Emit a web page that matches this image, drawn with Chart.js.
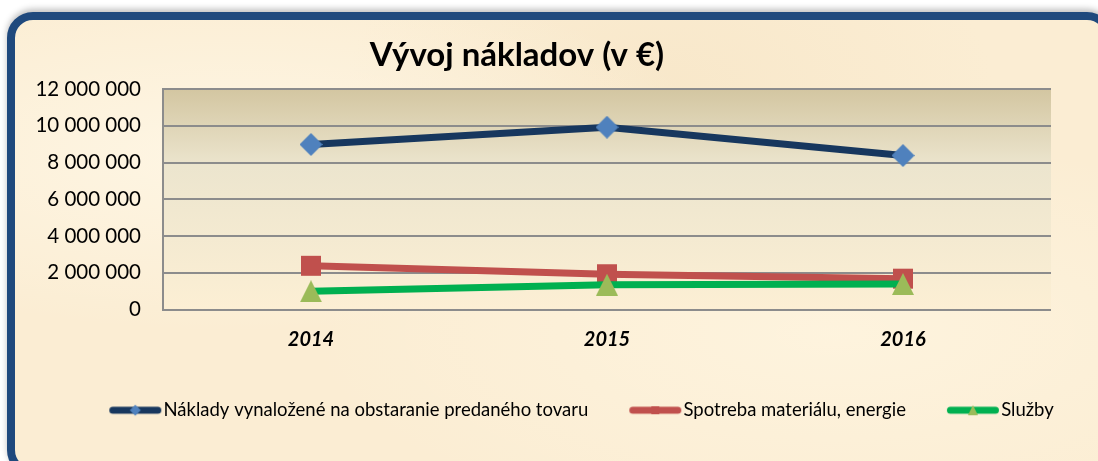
<!DOCTYPE html>
<html>
<head>
<meta charset="utf-8">
<script src="https://cdn.jsdelivr.net/npm/chart.js@4"></script>
<style>
  html, body { margin: 0; padding: 0; background: #fff; overflow: hidden; }
  #frame {
    position: absolute; left: 7px; top: 12px; width: 1090px; height: 448px;
    border: 8px solid #1F497D; border-radius: 26px;
    background:
      radial-gradient(ellipse at 20% 30%, rgba(255,248,232,0.8), rgba(255,248,232,0) 40%),
      radial-gradient(ellipse at 75% 70%, rgba(255,246,226,0.7), rgba(255,246,226,0) 45%),
      radial-gradient(ellipse at 60% 15%, rgba(246,228,196,0.6), rgba(246,228,196,0) 35%),
      #FBEDD3;
    box-shadow: 0 -3px 6px rgba(0,0,0,0.25);
  }
  #wrap { position: absolute; left: 0; top: 0; width: 1098px; height: 461px; }
</style>
</head>
<body>
<div id="frame"></div>
<div id="wrap"><canvas id="c" width="1098" height="461"></canvas></div>
<script>
const years = ['2014', '2015', '2016'];
const naklady = [8980000, 9920000, 8380000];
const spotreba = [2380000, 1920000, 1680000];
const sluzby = [990000, 1350000, 1390000];
const yTicks = [0, 2000000, 4000000, 6000000, 8000000, 10000000, 12000000];

const FONT = 'Lato, "Open Sans", sans-serif';

function fmt(v) { return String(v).replace(/\B(?=(\d{3})+(?!\d))/g, ' '); }

function marker(kind, size, fill) {
  const c = document.createElement('canvas');
  c.width = size; c.height = size;
  const g = c.getContext('2d');
  drawShape(g, kind, size / 2, size / 2, size, fill);
  return c;
}

function drawShape(g, kind, cx, cy, s, fill) {
  g.fillStyle = fill;
  g.beginPath();
  if (kind === 'diamond') {
    g.moveTo(cx, cy - s / 2); g.lineTo(cx + s / 2, cy); g.lineTo(cx, cy + s / 2); g.lineTo(cx - s / 2, cy);
  } else if (kind === 'square') {
    g.rect(cx - s / 2 + 1, cy - s / 2 + 1, s - 2, s - 2);
  } else {
    g.moveTo(cx, cy - s / 2); g.lineTo(cx + s / 2, cy + s / 2); g.lineTo(cx - s / 2, cy + s / 2);
  }
  g.closePath();
  g.fill();
}

// legend icon: wider than the legend box so the line sits close to the text
function legendIcon(kind, lineColor, fill) {
  const c = document.createElement('canvas');
  c.width = 80; c.height = 14;
  const g = c.getContext('2d');
  g.strokeStyle = lineColor; g.lineWidth = 7; g.lineCap = 'round';
  g.beginPath(); g.moveTo(28.5, 7); g.lineTo(73.5, 7); g.stroke();
  drawShape(g, kind, 51, 7, kind === 'diamond' ? 11 : 10, fill);
  return c;
}

// order: later series are painted on top, like the original
const series = [
  { label: 'Náklady vynaložené na obstaranie predaného tovaru', data: naklady, line: '#17375E', fill: '#4F81BD', kind: 'diamond', size: 23, order: 2 },
  { label: 'Spotreba materiálu, energie', data: spotreba, line: '#C0504D', fill: '#C0504D', kind: 'square', size: 22, order: 1 },
  { label: 'Služby', data: sluzby, line: '#00B050', fill: '#9BBB59', kind: 'triangle', size: 22, order: 0 }
];

const plotBg = {
  id: 'plotBg',
  afterLayout(chart) {
    // keep the legend on one row, as wide as the frame, slightly right of centre
    const lg = chart.legend;
    if (!lg) return;
    lg.maxWidth = 1098;
    lg.fit();
    lg.left = 56; lg.right = 1092;
    lg.top = 375; lg.bottom = 375 + lg.height;
  },
  beforeDraw(chart) {
    const { ctx, chartArea: a } = chart;
    const gr = ctx.createLinearGradient(0, a.top, 0, a.bottom);
    gr.addColorStop(0, '#D3C6A1');
    gr.addColorStop(0.35, '#ECE5CE');
    gr.addColorStop(1, '#FCEFD4');
    ctx.save();
    ctx.fillStyle = gr;
    ctx.fillRect(a.left, a.top, a.right - a.left, a.bottom - a.top);
    ctx.restore();
  },
  afterDraw(chart) {
    const { ctx } = chart;
    ctx.save();
    ctx.fillStyle = '#000';
    ctx.font = 'bold 33px ' + FONT;
    ctx.textAlign = 'center';
    ctx.textBaseline = 'middle';
    ctx.fillText('Vývoj nákladov (v €)', 517, 55);
    ctx.restore();
  }
};

new Chart(document.getElementById('c'), {
  type: 'line',
  data: {
    labels: years,
    datasets: series.map(s => ({
      label: s.label,
      data: s.data,
      order: s.order,
      borderColor: s.line,
      backgroundColor: s.fill,
      borderWidth: 7,
      tension: 0,
      pointStyle: marker(s.kind, s.size, s.fill),
      legendIcon: legendIcon(s.kind, s.line, s.fill)
    }))
  },
  options: {
    responsive: false,
    animation: false,
    layout: { padding: { left: 0, right: 47, top: 89, bottom: 32 } },
    scales: {
      x: {
        offset: true,
        afterFit(scale) { scale.height = 65; },
        grid: { display: false, drawTicks: false },
        border: { display: false },
        ticks: { color: '#000', padding: 18, font: { family: FONT, size: 20, style: 'italic', weight: 'bold' } }
      },
      y: {
        min: 0, max: 12000000,
        afterBuildTicks(scale) { scale.ticks = yTicks.map(v => ({ value: v })); },
        afterFit(scale) { scale.width = 163; },
        grid: { color: '#8C8C8C', lineWidth: 2, drawTicks: false },
        border: { color: '#8C8C8C', width: 2 },
        ticks: { color: '#000', padding: 22, autoSkip: false, callback: v => fmt(v), font: { family: FONT, size: 20.5 } }
      }
    },
    plugins: {
      title: { display: false },
      tooltip: { enabled: false },
      legend: {
        position: 'bottom',
        labels: {
          usePointStyle: true,
          pointStyleWidth: 60,
          boxHeight: 14,
          padding: 26,
          color: '#000',
          font: { family: FONT, size: 18.5 },
          generateLabels(chart) {
            return chart.data.datasets.map((d, i) => ({
              text: d.label,
              pointStyle: d.legendIcon,
              fillStyle: d.backgroundColor,
              strokeStyle: d.borderColor,
              lineWidth: 0,
              hidden: false,
              datasetIndex: i,
              fontColor: '#000'
            }));
          }
        }
      }
    }
  },
  plugins: [plotBg]
});
</script>
</body>
</html>
